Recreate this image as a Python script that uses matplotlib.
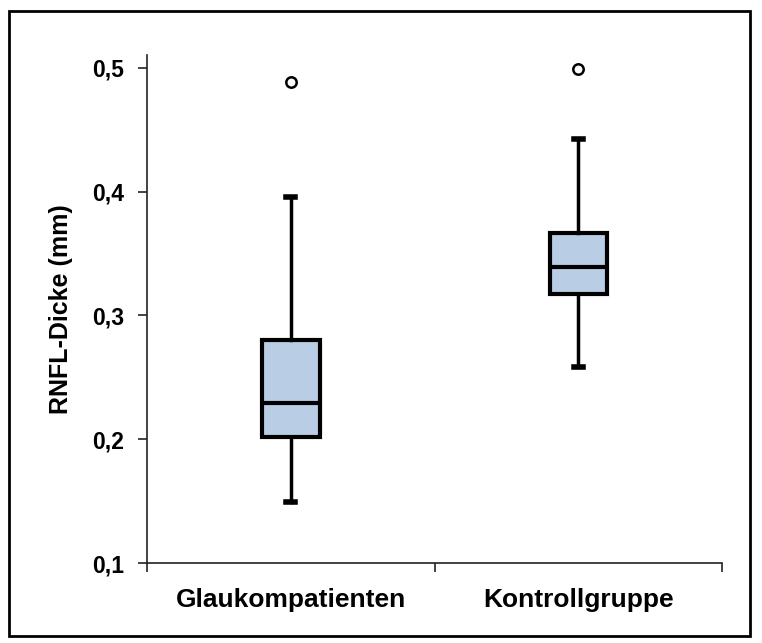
import matplotlib
matplotlib.use("Agg")
import matplotlib.pyplot as plt
from matplotlib.patches import Rectangle

plt.rcParams["font.family"] = ["Liberation Sans", "DejaVu Sans"]
plt.rcParams["font.weight"] = "bold"

# values
groups = ["Glaukompatienten", "Kontrollgruppe"]
whisker_low = [0.149, 0.258]
q1 = [0.202, 0.317]
median = [0.229, 0.339]
q3 = [0.280, 0.367]
whisker_high = [0.396, 0.443]
outliers = [[0.489], [0.499]]

yticks = [0.1, 0.2, 0.3, 0.4, 0.5]
ytick_labels = ["0,1", "0,2", "0,3", "0,4", "0,5"]

stats = []
for i, name in enumerate(groups):
    stats.append(dict(label=name, whislo=whisker_low[i], q1=q1[i], med=median[i],
                      q3=q3[i], whishi=whisker_high[i], fliers=outliers[i]))

fig = plt.figure(figsize=(7.62, 6.43), dpi=100)
ax = fig.add_axes([0.193, 0.1244, 0.7545, 0.7901])

box_fill = "#B9CDE5"
ax.bxp(stats, positions=[0.5, 1.5], widths=0.2, patch_artist=True,
       capwidths=0.03,
       boxprops=dict(facecolor=box_fill, edgecolor="black", linewidth=3),
       medianprops=dict(color="black", linewidth=3),
       whiskerprops=dict(color="black", linewidth=2.5),
       capprops=dict(color="black", linewidth=4),
       flierprops=dict(marker="o", markerfacecolor="white", markeredgecolor="black",
                       markersize=7.5, markeredgewidth=1.8))

ax.set_xlim(0, 2)
ax.set_ylim(0.1, 0.5105)

ax.set_yticks(yticks)
ax.set_yticklabels(ytick_labels, fontsize=16.5, fontweight="bold")
ax.tick_params(axis="y", direction="out", length=6.5, width=1.2, pad=10, color="#222222")

ax.set_xticks([0, 1, 2])
ax.set_xticklabels(["", "", ""])
ax.set_xticks([0.5, 1.5], minor=True)
ax.set_xticklabels(groups, minor=True, fontsize=19, fontweight="bold")
ax.tick_params(axis="x", which="major", direction="out", length=6.5, width=1.2, color="#222222")
ax.tick_params(axis="x", which="minor", length=0, pad=18)

ax.set_ylabel("RNFL-Dicke (mm)", fontsize=18, fontweight="bold", labelpad=14)

for side in ["top", "right"]:
    ax.spines[side].set_visible(False)
for side in ["left", "bottom"]:
    ax.spines[side].set_linewidth(1.2)
    ax.spines[side].set_color("#222222")

# outer frame around the whole picture
fig.add_artist(Rectangle((9 / 762, 1 - 636 / 643), (750 - 9) / 762, (636 - 11) / 643,
                         transform=fig.transFigure, fill=False,
                         edgecolor="black", linewidth=2))

fig.savefig("out.png", dpi=100, facecolor="white")
plt.close(fig)
